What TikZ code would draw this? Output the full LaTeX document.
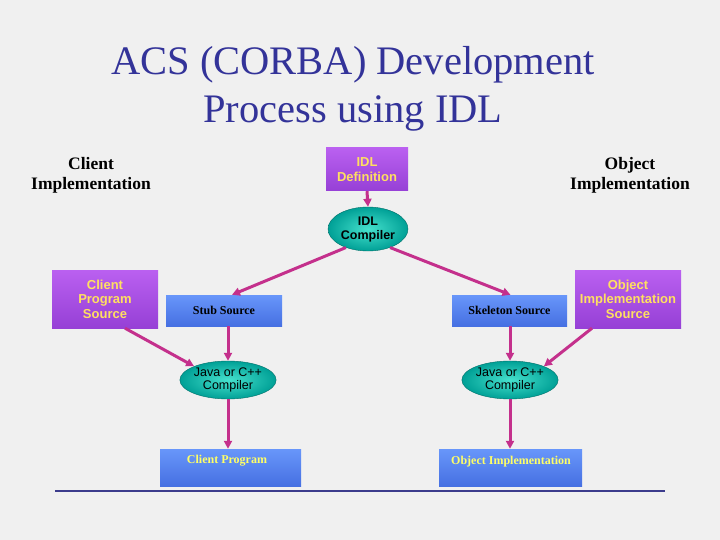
\documentclass[tikz,border=0pt]{standalone}
\usepackage{fontspec}
\setmainfont{Liberation Serif}
\newfontfamily\arialf{Liberation Sans}
\usetikzlibrary{shapes.geometric,arrows.meta,calc}
\definecolor{bgc}{RGB}{240,240,240}
\definecolor{titlec}{RGB}{51,51,153}
\definecolor{purtop}{RGB}{186,96,240}
\definecolor{purbot}{RGB}{150,64,214}
\definecolor{bluetop}{RGB}{104,150,250}
\definecolor{bluebot}{RGB}{70,112,226}
\definecolor{tealin}{RGB}{70,225,205}
\definecolor{tealout}{RGB}{0,160,150}
\definecolor{yell}{RGB}{255,224,96}
\definecolor{yell2}{RGB}{255,255,102}
\definecolor{arr}{RGB}{196,48,140}
\definecolor{rulec}{RGB}{60,60,140}
\tikzset{
  purbox/.style={rectangle, top color=purtop, bottom color=purbot, draw=none,
    text=yell, font=\arialf\bfseries\fontsize{13}{14.5}\selectfont, align=center, inner sep=0pt},
  bluebox/.style={rectangle, top color=bluetop, bottom color=bluebot, draw=none,
    inner sep=0pt},
  comp/.style={ellipse, inner color=tealin, outer color=tealout, draw=tealout!70!black, line width=0.4pt,
    inner sep=0pt, align=center, text=black},
  flow/.style={draw=arr, line width=3pt, -{Triangle[length=8pt,width=8pt]}},
  heading/.style={font=\bfseries\fontsize{17.5}{20}\selectfont, align=center},
}
\begin{document}
\begin{tikzpicture}[x=1pt,y=-1pt]
\fill[bgc] (0,0) rectangle (720,540);
\useasboundingbox (0,0) rectangle (720,540);

\node[text=titlec, font=\fontsize{40.5}{48}\selectfont, align=center] (title) at (353,89)
  {ACS (CORBA) Development\\Process using IDL};

\node[heading] (ci) at (91,175) {Client\\Implementation};
\node[heading] (oi) at (630,175) {Object\\Implementation};

\node[purbox, minimum width=82pt, minimum height=43pt] (idl) at (367,169.5) {IDL\\Definition};
\node[comp, minimum width=80pt, minimum height=44pt, font=\arialf\bfseries\fontsize{12.5}{14}\selectfont] (idlc) at (368,229) {IDL\\Compiler};

\node[purbox, minimum width=106pt, minimum height=58pt] (cps) at (105,299) {Client\\Program\\Source};
\node[purbox, minimum width=106pt, minimum height=58pt] (ois) at (628,299) {Object\\Implementation\\Source};

\node[bluebox, minimum width=116pt, minimum height=31pt, font=\fontsize{12}{13}\selectfont\bfseries] (stub) at (224,310.5) {Stub Source};
\node[bluebox, minimum width=115pt, minimum height=31pt, font=\fontsize{12}{13}\selectfont\bfseries] (skel) at (509.5,310.5) {Skeleton Source};

\node[comp, minimum width=80pt, minimum height=38pt, font=\arialf\fontsize{12.5}{13.5}\selectfont] (lc) at (228,380) {Java or C++\\Compiler};
\node[comp, minimum width=80pt, minimum height=38pt, font=\arialf\fontsize{12.5}{13.5}\selectfont] (rc) at (510,380) {Java or C++\\Compiler};

\node[bluebox, minimum width=141pt, minimum height=37pt] (cp) at (230.5,467.5) {};
\node[text=yell2, font=\bfseries\fontsize{12}{14}\selectfont, anchor=center] (cpt) at (227,461) {Client Program};
\node[bluebox, minimum width=143pt, minimum height=37pt] (oimp) at (510.5,467.5) {};
\node[text=yell2, font=\bfseries\fontsize{12}{14}\selectfont, anchor=center] (oimpt) at (511,462) {Object Implementation};

\coordinate (rl) at (55,491);
\coordinate (rr) at (665,491);
\draw[rulec, line width=2pt] (rl) -- (rr);

\draw[flow] (idl.south) -- (idlc.north);
\draw[flow] (idlc.220) -- ([xshift=8pt]stub.north);
\draw[flow] (idlc.-40) -- ([xshift=1pt]skel.north);
\draw[flow] (stub.south -| lc.north) -- (lc.north);
\draw[flow] ([xshift=20pt]cps.south) -- (lc.158);
\draw[flow] (lc.south) -- (lc.south |- cp.north);
\draw[flow] (skel.south -| rc.north) -- (rc.north);
\draw[flow] ([xshift=-36pt]ois.south) -- (rc.22);
\draw[flow] (rc.south) -- (rc.south |- oimp.north);
\end{tikzpicture}
\end{document}
